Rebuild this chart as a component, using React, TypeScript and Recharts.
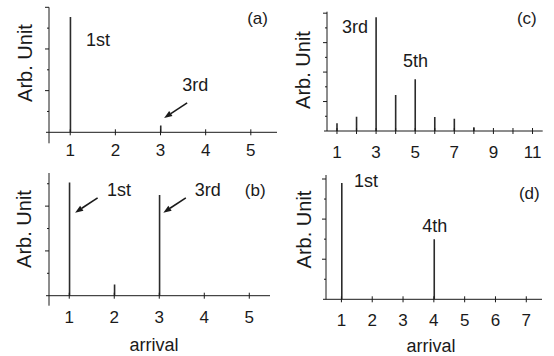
import React from 'react';
import { BarChart, Bar, XAxis, YAxis, ReferenceLine, ReferenceDot, Label } from 'recharts';

// arrival index and relative intensity for each panel
const arrivalsA = [1, 2, 3, 4, 5];
const valuesA = [5.54, 0, 0.33, 0, 0];
const labelsA = [1, 2, 3, 4, 5];

const arrivalsB = [1, 2, 3, 4, 5];
const valuesB = [5.06, 0.5, 4.5, 0, 0];
const labelsB = [1, 2, 3, 4, 5];

const arrivalsC = [1, 2, 3, 4, 5, 6, 7, 8, 9, 10, 11];
const valuesC = [0.52, 0.97, 7.73, 2.45, 3.52, 0.95, 0.84, 0.25, 0, 0, 0];
const labelsC = [1, 3, 5, 7, 9, 11];

const arrivalsD = [1, 2, 3, 4, 5, 6, 7];
const valuesD = [5.8, 0, 0, 3.0, 0, 0, 0];
const labelsD = [1, 2, 3, 4, 5, 6, 7];

const INK = '#1a1a1a';
const FONT = '"Liberation Sans", Arial, sans-serif';

type Note = { text: string; x: number; y: number; size?: number };
type Arrow = { x1: number; y1: number; x2: number; y2: number };

function ArrowShape(props: any) {
  const { x1, y1, x2, y2 } = props;
  const a = Math.atan2(y2 - y1, x2 - x1);
  const len = 8, half = 3;
  const bx = x2 - len * Math.cos(a), by = y2 - len * Math.sin(a);
  const px = -Math.sin(a) * half, py = Math.cos(a) * half;
  return (
    <g>
      <line x1={x1} y1={y1} x2={bx} y2={by} stroke={INK} strokeWidth={1.6} />
      <polygon points={`${x2},${y2} ${bx + px},${by + py} ${bx - px},${by - py}`} fill={INK} />
    </g>
  );
}

function Panel(props: any) {
  const { box, margin, arrivals, values, labels, xDomain, yDomain, yMax, labelDy, yExt, notes, arrows, title, xTitle } = props;
  const data = arrivals.map((a: number, i: number) => ({ arrival: a, value: values[i] }));
  const xTicks = [xDomain[0], ...arrivals];
  const yTicks = Array.from({ length: yMax + 1 }, (_, i) => i);
  // axes take 1px of room, so the margins are shrunk by that amount
  const m = { ...margin, left: margin.left - 1, bottom: margin.bottom - 1 };

  const XTick = (p: any) => {
    const { x, y, payload } = p;
    const v = payload.value;
    if (v === xDomain[0]) return <line x1={x - 3} y1={y} x2={x} y2={y} stroke={INK} />;
    return (
      <g>
        <line x1={x} y1={y - 3} x2={x} y2={y + 3} stroke={INK} />
        {labels.includes(v) && (
          <text x={x} y={y + labelDy} textAnchor="middle" fontFamily={FONT} fontSize={17} fill={INK}>{v}</text>
        )}
      </g>
    );
  };

  const YTick = (p: any) => {
    const { x, y, payload } = p;
    const v = payload.value;
    if (v === 0) return yExt ? <line x1={x} y1={y} x2={x} y2={y + yExt} stroke={INK} /> : <g />;
    const l = v % 2 === 0 ? 4 : 2;
    return <line x1={x - l} y1={y} x2={x} y2={y} stroke={INK} />;
  };

  return (
    <div style={{ position: 'absolute', left: box[0], top: box[1] }}>
      <BarChart width={box[2]} height={box[3]} data={data} margin={m}>
        <XAxis dataKey="arrival" type="number" domain={xDomain} ticks={xTicks} interval={0}
          tickSize={0} tickMargin={0} height={1} tick={XTick} axisLine={{ stroke: INK }} allowDataOverflow>
          {xTitle && (
            <Label content={() => (
              <text x={xTitle[0]} y={xTitle[1]} textAnchor="middle" fontFamily={FONT} fontSize={18} fill={INK}>arrival</text>
            )} />
          )}
        </XAxis>
        <YAxis type="number" domain={yDomain} ticks={yTicks} interval={0}
          tickSize={0} tickMargin={0} width={1} tick={YTick} axisLine={{ stroke: INK }} allowDataOverflow>
          <Label content={() => (
            <text x={title[0]} y={title[1]} transform={`rotate(-90 ${title[0]} ${title[1]})`} textAnchor="middle"
              dominantBaseline="central" fontFamily={FONT} fontSize={20} fill={INK}>Arb. Unit</text>
          )} />
        </YAxis>
        <Bar dataKey="value" fill="#2b2b2b" barSize={1.6} isAnimationActive={false} />
        {notes.map((n: Note) => (
          <ReferenceDot key={n.text} x={n.x} y={n.y} r={0}
            shape={(s: any) => (
              <text x={s.cx} y={s.cy} fontFamily={FONT} fontSize={n.size ?? 18} fill={INK}>{n.text}</text>
            )} />
        ))}
        {arrows.map((a: Arrow, i: number) => (
          <ReferenceLine key={i} segment={[{ x: a.x1, y: a.y1 }, { x: a.x2, y: a.y2 }]} shape={ArrowShape} />
        ))}
      </BarChart>
    </div>
  );
}

export default function App() {
  return (
    <div style={{ position: 'absolute', left: 0, top: 0, width: 554, height: 356, background: '#fff' }}>
      <Panel box={[0, 0, 277, 170]} margin={{ top: 7.3, right: 0, bottom: 37.7, left: 49 }}
        arrivals={arrivalsA} values={valuesA} labels={labelsA}
        xDomain={[0.53, 5.58]} yDomain={[0, 6]} yMax={6} labelDy={24} yExt={11}
        notes={[{ text: '1st', x: 1.35, y: 4.12 }, { text: '3rd', x: 3.48, y: 2.0 }, { text: '(a)', x: 4.92, y: 5.21, size: 17 }]}
        arrows={[{ x1: 3.59, y1: 1.41, x2: 3.08, y2: 0.69 }]}
        title={[25, 63]} />
      <Panel box={[277, 0, 277, 170]} margin={{ top: 11.7, right: 11.3, bottom: 39, left: 50 }}
        arrivals={arrivalsC} values={valuesC} labels={labelsC}
        xDomain={[0.49, 11.52]} yDomain={[0, 8.1]} yMax={8} labelDy={26.5} yExt={0}
        notes={[{ text: '3rd', x: 1.26, y: 6.67 }, { text: '5th', x: 4.37, y: 4.35 }, { text: '(c)', x: 10.2, y: 7.28, size: 17 }]}
        arrows={[]}
        title={[26, 70]} />
      <Panel box={[0, 170, 277, 186]} margin={{ top: 3, right: 7, bottom: 60.3, left: 49 }}
        arrivals={arrivalsB} values={valuesB} labels={labelsB}
        xDomain={[0.55, 5.46]} yDomain={[0, 5.48]} yMax={5} labelDy={27.5} yExt={10}
        notes={[{ text: '1st', x: 1.84, y: 4.47 }, { text: '3rd', x: 3.79, y: 4.47 }, { text: '(b)', x: 4.9, y: 4.45, size: 17 }]}
        arrows={[{ x1: 1.63, y1: 4.37, x2: 1.13, y2: 3.71 }, { x1: 3.59, y1: 4.37, x2: 3.09, y2: 3.71 }]}
        title={[24, 59]} xTitle={[154, 180.5]} />
      <Panel box={[277, 170, 277, 186]} margin={{ top: 5, right: 12, bottom: 56.7, left: 49 }}
        arrivals={arrivalsD} values={valuesD} labels={labelsD}
        xDomain={[0.5, 7.51]} yDomain={[0, 6.2]} yMax={6} labelDy={27} yExt={0}
        notes={[{ text: '1st', x: 1.41, y: 5.62 }, { text: '4th', x: 3.62, y: 3.37 }, { text: '(d)', x: 6.76, y: 5.02, size: 17 }]}
        arrows={[]}
        title={[26.5, 59.5]} xTitle={[154, 181.5]} />
    </div>
  );
}
